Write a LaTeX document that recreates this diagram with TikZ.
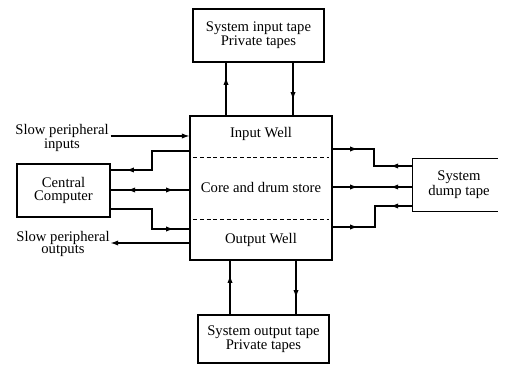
\documentclass[tikz,border=0pt]{standalone}
\usepackage{fontspec}
\setmainfont{Liberation Serif}
\usetikzlibrary{positioning,arrows.meta,decorations.markings}
\tikzset{
>={Latex[length=2mm,width=1.4mm]},
unit/.style={
draw,
line width=0.9pt,
align=center,
inner sep=1pt,
font=\fontsize{11}{9.5}\selectfont
},
caption/.style={
align=center,
inner sep=1pt,
font=\fontsize{11}{9.5}\selectfont
},
link/.style={
line width=0.8pt
},
arrow/.style={
->,
line width=0.8pt
},
sep/.style={
densely dashed,
line width=0.5pt,
shorten <=3pt,
shorten >=3pt
},
oneway/.style={
postaction={decorate},
decoration={markings,mark=at position #1 with {\arrow{>}}}
},
fwdrev/.style 2 args={
postaction={decorate},
decoration={markings,
mark=at position #1 with {\arrow{>}},
mark=at position #2 with {\arrowreversed{>}}}
},
revfwd/.style 2 args={
postaction={decorate},
decoration={markings,
mark=at position #1 with {\arrowreversed{>}},
mark=at position #2 with {\arrow{>}}}
}
}
\begin{document}
\begin{tikzpicture}[x=0.75pt,y=-0.75pt]
\useasboundingbox (0,0) rectangle (505,366);

\node[unit,minimum width=106.5pt,minimum height=108pt](well) at (261,188){};
\node[unit,minimum width=98.25pt,minimum height=39.75pt](intape) at (258.5,35.5){System input tape\\Private tapes};
\node[unit,minimum width=98.25pt,minimum height=36pt](outtape) at (263.5,339){System output tape\\Private tapes};
\node[unit,minimum width=69.75pt,minimum height=39.75pt](cc) at (63.5,190.5){Central\\Computer};
\node[unit,draw=none,minimum width=63pt,minimum height=39pt](dump) at (455,185){\hspace*{6pt}System\\\hspace*{6pt}dump tape};
\draw[line width=0.9pt](dump.north east)--(dump.north west)--(dump.south west)--(dump.south east);

\node[caption](inwell) at (261,134){Input Well};
\node[caption](core) at (261,187){Core and drum store};
\node[caption](outwell) at (261,240){Output Well};
\draw[sep](well.west|-0,157)--(well.east|-0,157);
\draw[sep](well.west|-0,219)--(well.east|-0,219);

\node[caption](slowin) at (62,138){Slow peripheral\\inputs};
\node[caption](slowout) at (63,244){Slow peripheral\\outputs};

\draw[arrow](cc.east|-0,136)--(well.west|-0,136);
\draw[arrow](well.west|-0,243)--(cc.east|-0,243);
\draw[link,oneway=61.5pt](well.west|-0,151)-|(152,170)--(cc.east|-0,170);
\draw[link,revfwd={12.75pt}{47.25pt}](cc.east|-0,190)--(well.west|-0,190);
\draw[link,oneway=62.25pt](cc.east|-0,209)-|(152,229)--(well.west|-0,229);

\draw[link,fwdrev={18.75pt}{56.25pt}](well.east|-0,149)-|(374,166)--(dump.west|-0,166);
\draw[link,fwdrev={18.75pt}{43.5pt}](well.east|-0,187)--(dump.west|-0,187);
\draw[link,fwdrev={18.75pt}{59.25pt}](well.east|-0,227)-|(375,206)--(dump.west|-0,206);

\foreach \a/\b/\x/\p in {well.north/intape.south/226/28.5pt,intape.south/well.north/293/27.75pt,outtape.north/well.south/230/29.25pt,well.south/outtape.north/296/27.75pt}
\draw[link,oneway=\p](\a-|\x,0)--(\b-|\x,0);

\end{tikzpicture}
\end{document}
